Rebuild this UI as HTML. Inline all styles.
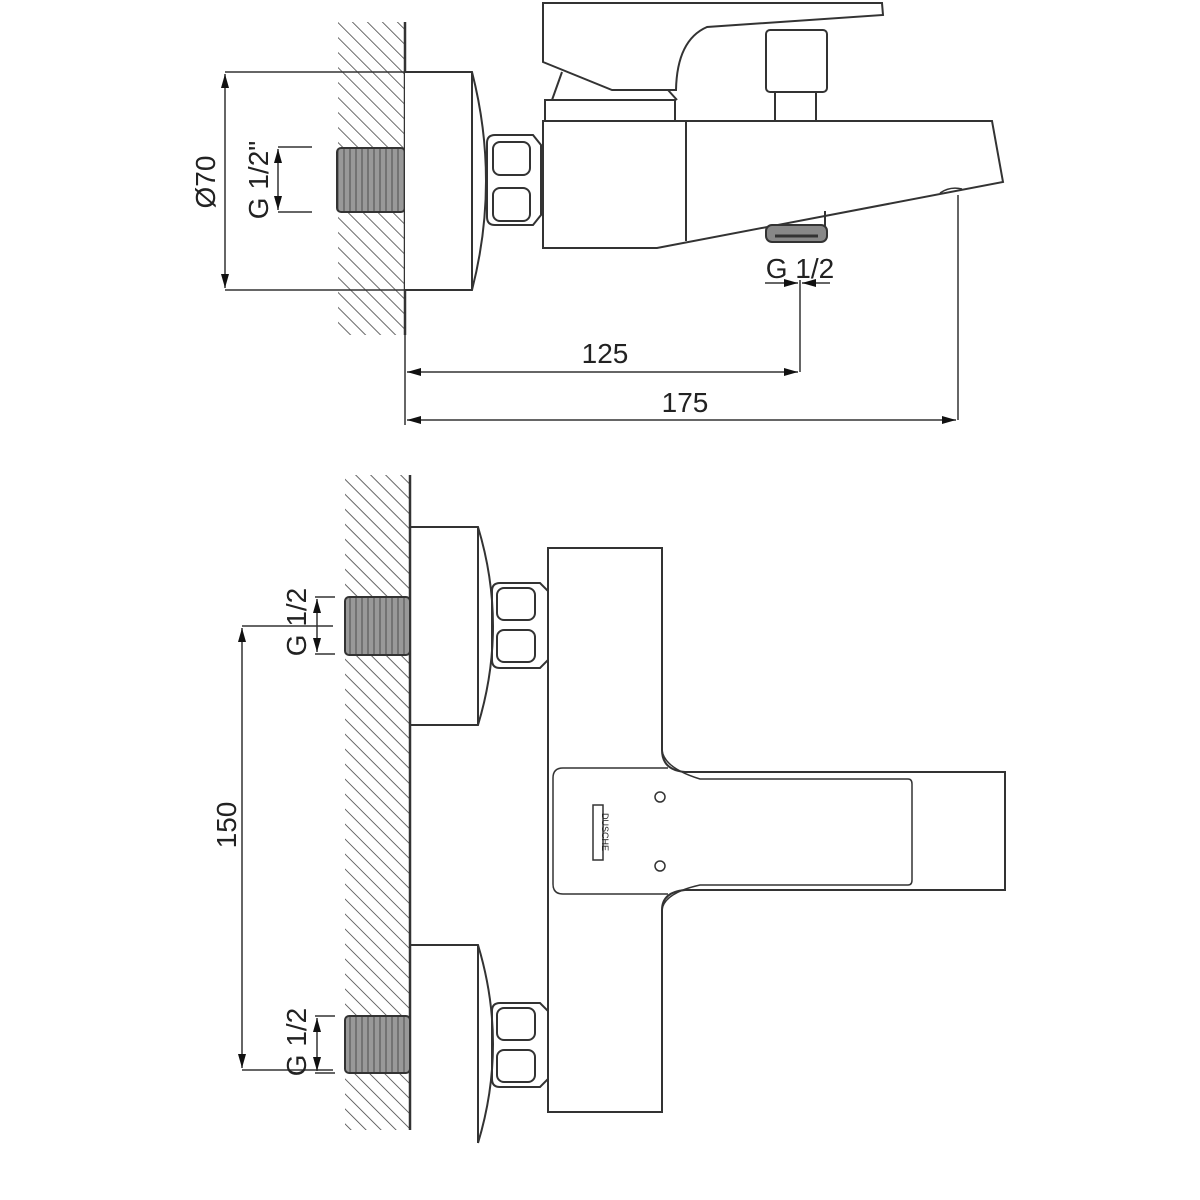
<!DOCTYPE html>
<html><head><meta charset="utf-8"><style>html,body{margin:0;padding:0;background:#fff}svg{display:block}</style></head>
<body>
<svg width="1200" height="1200" viewBox="0 0 1200 1200" xmlns="http://www.w3.org/2000/svg" font-family="Liberation Sans, sans-serif">
<defs>
<pattern id="h" patternUnits="userSpaceOnUse" width="10.6" height="10.6" patternTransform="rotate(-45)">
<line x1="0" y1="0" x2="0" y2="10.6" stroke="#444" stroke-width="1.6"/>
</pattern>
<pattern id="t" patternUnits="userSpaceOnUse" width="6" height="10">
<rect width="6" height="10" fill="#999"/><line x1="2" y1="0" x2="2" y2="10" stroke="#666" stroke-width="1.5"/>
</pattern>
<marker id="a" viewBox="0 0 14 10" refX="14" refY="5" markerWidth="14" markerHeight="10" orient="auto-start-reverse" markerUnits="userSpaceOnUse"><path d="M0,1 L14,5 L0,9z" fill="#111"/></marker>
</defs>
<g stroke="#333" stroke-width="2" fill="none">
<!-- TOP VIEW -->
<rect x="338" y="22" width="67" height="313" fill="url(#h)" stroke="none"/>
<line x1="405" y1="22" x2="405" y2="335" stroke-width="2.5"/>
<rect x="337" y="148" width="68" height="64" rx="4" fill="url(#t)"/>
<path d="M405,72 H472 Q500,181 472,290 H405" fill="#fff"/>
<line x1="472" y1="72" x2="472" y2="290"/>
<path d="M487,143 Q487,135 495,135 H533 L541,145 V215 L533,225 H495 Q487,225 487,217 Z"/>
<rect x="493" y="142" width="37" height="33" rx="7"/>
<rect x="493" y="188" width="37" height="33" rx="7"/>
<!-- dims top -->
<line x1="225" y1="72" x2="405" y2="72" stroke-width="1.5"/>
<line x1="225" y1="290" x2="405" y2="290" stroke-width="1.5"/>
<line x1="225" y1="74" x2="225" y2="288" stroke-width="1.5" marker-start="url(#a)" marker-end="url(#a)"/>
<line x1="278" y1="147" x2="312" y2="147" stroke-width="1.5"/>
<line x1="278" y1="212" x2="312" y2="212" stroke-width="1.5"/>
<line x1="278" y1="149" x2="278" y2="182" stroke-width="1.5" marker-start="url(#a)"/>
<line x1="278" y1="182" x2="278" y2="210" stroke-width="1.5" marker-end="url(#a)"/>
<!-- lever -->
<path d="M543,62 V3 H882 L883,15 L707,27 Q677,40 676,90 L612,90 Z"/>
<path d="M562,72 L552,100"/>
<path d="M545,121 V100 H675 V121"/>
<path d="M668,90 L677,100"/>
<rect x="766" y="30" width="61" height="62" rx="4"/>
<line x1="775" y1="92" x2="775" y2="121"/>
<line x1="816" y1="92" x2="816" y2="121"/>
<path d="M543,121 H992 L1003,182 L657,248 H543 Z"/>
<line x1="686" y1="121" x2="686" y2="241"/>
<path d="M940,193 Q950,186 962,189" stroke-width="1.5"/>
<line x1="825" y1="211" x2="825" y2="226"/>
<rect x="766" y="225" width="61" height="17" rx="6" fill="#888"/>
<line x1="775" y1="236" x2="818" y2="236" stroke="#333" stroke-width="3"/>
<!-- dims -->
<line x1="765" y1="283" x2="798" y2="283" stroke-width="1.5" marker-end="url(#a)"/>
<line x1="830" y1="283" x2="802" y2="283" stroke-width="1.5" marker-end="url(#a)"/>
<line x1="800" y1="280" x2="800" y2="372" stroke-width="1.5"/>
<line x1="958" y1="195" x2="958" y2="420" stroke-width="1.5"/>
<line x1="405" y1="335" x2="405" y2="425" stroke-width="1.5"/>
<line x1="407" y1="372" x2="798" y2="372" stroke-width="1.5" marker-start="url(#a)" marker-end="url(#a)"/>
<line x1="407" y1="420" x2="956" y2="420" stroke-width="1.5" marker-start="url(#a)" marker-end="url(#a)"/>

<!-- BOTTOM VIEW -->
<rect x="345" y="475" width="65" height="655" fill="url(#h)" stroke="none"/>
<line x1="410" y1="475" x2="410" y2="1130" stroke-width="2.5"/>
<rect x="345" y="597" width="65" height="58" rx="4" fill="url(#t)"/>
<rect x="345" y="1016" width="65" height="57" rx="4" fill="url(#t)"/>
<path d="M410,527 H478 Q508,626 478,725 H410"/>
<line x1="478" y1="527" x2="478" y2="725"/>
<path d="M410,945 H478 Q508,1044 478,1143"/>
<line x1="478" y1="945" x2="478" y2="1143"/>
<path d="M492,591 Q492,583 500,583 H540 L548,591 V660 L540,668 H500 Q492,668 492,660 Z"/>
<rect x="497" y="588" width="38" height="32" rx="7"/>
<rect x="497" y="630" width="38" height="32" rx="7"/>
<path d="M492,1011 Q492,1003 500,1003 H540 L548,1011 V1079 L540,1087 H500 Q492,1087 492,1079 Z"/>
<rect x="497" y="1008" width="38" height="32" rx="7"/>
<rect x="497" y="1050" width="38" height="32" rx="7"/>
<!-- body -->
<path d="M662,750 V548 H548 V1112 H662 V910"/>
<path d="M662,750 Q662,770 685,772 H1005 V890 H685 Q662,892 662,910"/>
<path d="M662,750 Q664,768 700,779 H908 Q912,779 912,784 V880 Q912,885 908,885 H700 Q664,893 662,910" stroke-width="1.5"/>
<path d="M563,768 H668 M563,894 H668" stroke-width="1.5"/>
<path d="M563,768 Q553,768 553,778 V884 Q553,894 563,894" stroke-width="1.5"/>
<circle cx="660" cy="797" r="5" stroke-width="1.5"/>
<circle cx="660" cy="866" r="5" stroke-width="1.5"/>
<rect x="593" y="805" width="10" height="55" fill="none" stroke-width="1.5"/>
<!-- dims bottom -->
<line x1="242" y1="626" x2="333" y2="626" stroke-width="1.5"/>
<line x1="242" y1="1070" x2="333" y2="1070" stroke-width="1.5"/>
<line x1="242" y1="628" x2="242" y2="1068" stroke-width="1.5" marker-start="url(#a)" marker-end="url(#a)"/>
<line x1="315" y1="597" x2="335" y2="597" stroke-width="1.5"/>
<line x1="315" y1="654" x2="335" y2="654" stroke-width="1.5"/>
<line x1="317" y1="599" x2="317" y2="625" stroke-width="1.5" marker-start="url(#a)"/>
<line x1="317" y1="625" x2="317" y2="652" stroke-width="1.5" marker-end="url(#a)"/>
<line x1="315" y1="1016" x2="335" y2="1016" stroke-width="1.5"/>
<line x1="315" y1="1073" x2="335" y2="1073" stroke-width="1.5"/>
<line x1="317" y1="1018" x2="317" y2="1045" stroke-width="1.5" marker-start="url(#a)"/>
<line x1="317" y1="1045" x2="317" y2="1071" stroke-width="1.5" marker-end="url(#a)"/>
</g>
<g fill="#222" font-size="28">
<text transform="translate(215,182) rotate(-90)" text-anchor="middle">Ø70</text>
<text transform="translate(268,180) rotate(-90)" text-anchor="middle">G 1/2"</text>
<text x="800" y="278" text-anchor="middle">G 1/2</text>
<text x="605" y="363" text-anchor="middle">125</text>
<text x="685" y="412" text-anchor="middle">175</text>
<text transform="translate(236,825) rotate(-90)" text-anchor="middle">150</text>
<text transform="translate(306,622) rotate(-90)" text-anchor="middle">G 1/2</text>
<text transform="translate(306,1042) rotate(-90)" text-anchor="middle">G 1/2</text>
<text transform="translate(602,832) rotate(90)" text-anchor="middle" font-size="9">DUSCHE</text>
</g>
</svg>
</body></html>
